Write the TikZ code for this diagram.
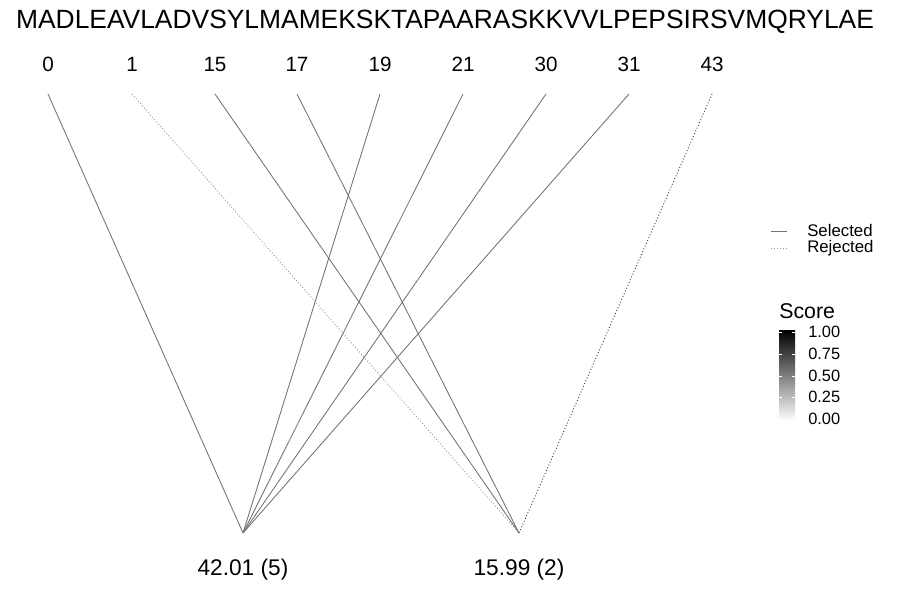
\documentclass[tikz,border=0pt]{standalone}
\usepackage{fontspec}
\setmainfont{Liberation Sans}
\tikzset{
  sel/.style={draw=black!55,line width=0.65pt},
  rej/.style={draw=black!40,line width=0.7pt,dash pattern=on 0.7pt off 1.6pt},
  posnum/.style={font=\fontsize{15.5}{16}\selectfont},
  legtext/.style={anchor=west,inner sep=0pt,font=\fontsize{12.6}{13}\selectfont},
  bartext/.style={anchor=west,inner sep=0pt,font=\fontsize{12.3}{13}\selectfont},
}
\begin{document}
\begin{tikzpicture}[x=0.75pt,y=-0.75pt]
    \useasboundingbox (0,0) rectangle (900,600);
    \node (seq) at (445,22) {\fontsize{19.8}{20}\selectfont MADLEAVLADVSYLMAMEKSKTAPAARASKKVVLPEPSIRSVMQRYLAE};
    % positions
    \node[posnum] (p0) at (48,64) {0};
    \node[posnum] (p1) at (132,64) {1};
    \node[posnum] (p15) at (215,64) {15};
    \node[posnum] (p17) at (297,64) {17};
    \node[posnum] (p19) at (380,64) {19};
    \node[posnum] (p21) at (463,64) {21};
    \node[posnum] (p30) at (546,64) {30};
    \node[posnum] (p31) at (629,64) {31};
    \node[posnum] (p43) at (712,64) {43};
    \coordinate (t0) at (48,94);
    \coordinate (t1) at (132,94);
    \coordinate (t15) at (215,94);
    \coordinate (t17) at (297,94);
    \coordinate (t19) at (380,94);
    \coordinate (t21) at (463,94);
    \coordinate (t30) at (546,94);
    \coordinate (t31) at (629,94);
    \coordinate (t43) at (712,94);
    % masses
    \coordinate (mA) at (243,533);
    \coordinate (mB) at (519,533);
    \node[font=\fontsize{17}{18}\selectfont] (lA) at (243,570) {42.01 (5)};
    \node[font=\fontsize{17}{18}\selectfont] (lB) at (519,570) {15.99 (2)};
    \draw[sel] (t0) -- (mA);
    \draw[sel] (t19) -- (mA);
    \draw[sel] (t21) -- (mA);
    \draw[sel] (t30) -- (mA);
    \draw[sel] (t31) -- (mA);
    \draw[sel] (t15) -- (mB);
    \draw[sel] (t17) -- (mB);
    \draw[rej] (t1) -- (mB);
    \draw[rej,draw=black!75] (t43) -- (mB);
    % legend
    \coordinate (s0) at (771,231);
    \coordinate (s1) at (787,231);
    \coordinate (r0) at (771,248);
    \coordinate (r1) at (787,248);
    \draw[sel] (s0) -- (s1);
    \draw[rej] (r0) -- (r1);
    \node[legtext] (lsel) at (807,230.5) {Selected};
    \node[legtext] (lrej) at (807,248.5) {Rejected};
    \node[anchor=west,inner sep=0pt,font=\fontsize{16}{17}\selectfont] (score) at (779,311) {Score};
    \shade[bottom color=white,top color=black] (779,330) rectangle (795,421);
    \draw[white,line width=0.4pt] (779,332) -- (782,332) (792,332) -- (795,332)
      (779,354) -- (782,354) (792,354) -- (795,354)
      (779,376) -- (782,376) (792,376) -- (795,376)
      (779,397) -- (782,397) (792,397) -- (795,397)
      (779,419) -- (782,419) (792,419) -- (795,419);
    \node[bartext] (c100) at (808,332) {1.00};
    \node[bartext] (c075) at (808,354) {0.75};
    \node[bartext] (c050) at (808,376) {0.50};
    \node[bartext] (c025) at (808,397) {0.25};
    \node[bartext] (c000) at (808,419) {0.00};
\end{tikzpicture}
\end{document}
